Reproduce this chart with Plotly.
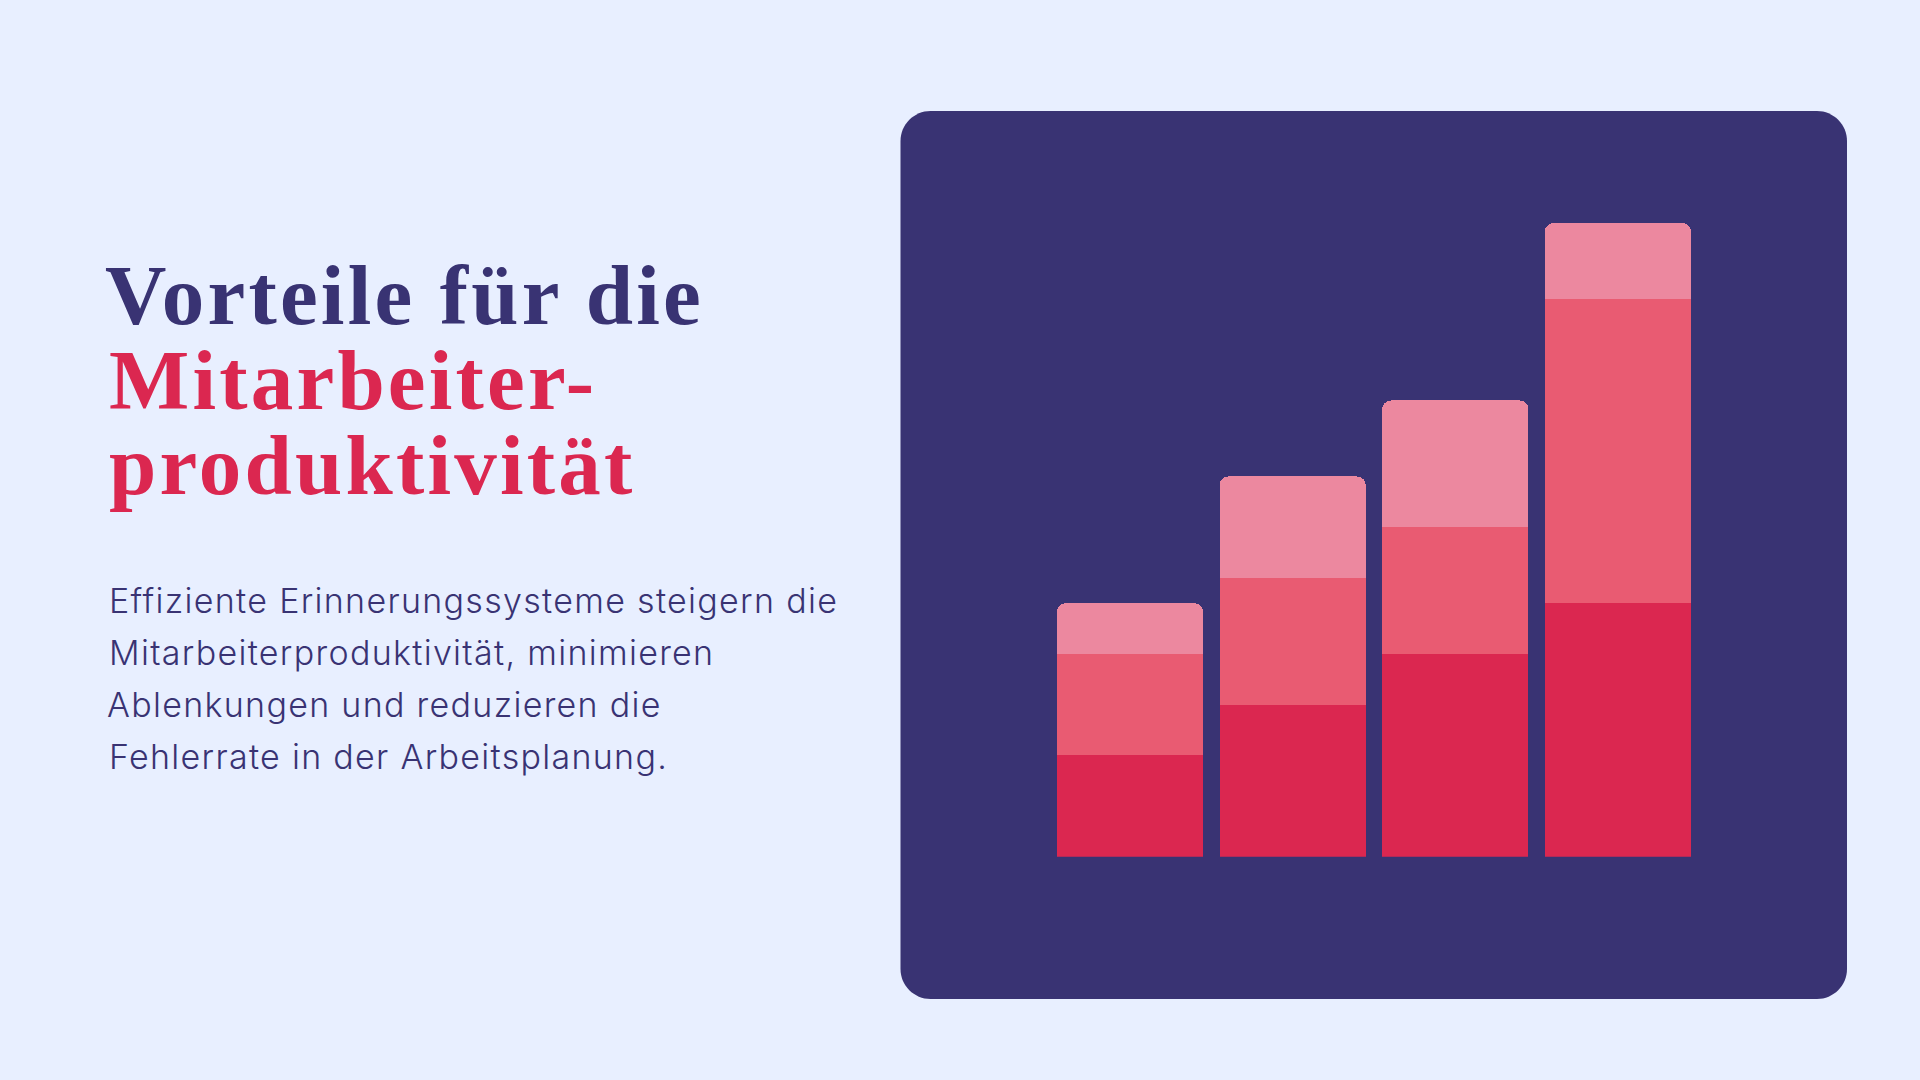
import plotly.graph_objects as go

# values
categories = ["1", "2", "3", "4"]
lower = [20, 30, 40, 50]
middle = [20, 25, 25, 60]
upper = [10, 20, 25, 15]

title_lines = ["Vorteile für die", "Mitarbeiter-", "produktivität"]
body_lines = [
    "Effiziente Erinnerungssysteme steigern die",
    "Mitarbeiterproduktivität, minimieren",
    "Ablenkungen und reduzieren die",
    "Fehlerrate in der Arbeitsplanung.",
]

W, H = 1920, 1080
NAVY = "#393373"
RED = "#DB2750"
BG = "#E8EFFF"


def px(x):
    return x / W


def py(y):
    return 1 - y / H


def rounded_rect(x0, y0, x1, y1, r):
    k = r * 0.45  # control point offset for a circular looking corner
    return (
        f"M {px(x0 + r)} {py(y0)} L {px(x1 - r)} {py(y0)} "
        f"C {px(x1 - k)} {py(y0)} {px(x1)} {py(y0 + k)} {px(x1)} {py(y0 + r)} L {px(x1)} {py(y1 - r)} "
        f"C {px(x1)} {py(y1 - k)} {px(x1 - k)} {py(y1)} {px(x1 - r)} {py(y1)} L {px(x0 + r)} {py(y1)} "
        f"C {px(x0 + k)} {py(y1)} {px(x0)} {py(y1 - k)} {px(x0)} {py(y1 - r)} L {px(x0)} {py(y0 + r)} "
        f"C {px(x0)} {py(y0 + k)} {px(x0 + k)} {py(y0)} {px(x0 + r)} {py(y0)} Z"
    )


def text_line(text, x, y, size, color, family, weight):
    return dict(
        text=text, x=px(x), y=py(y), xref="paper", yref="paper",
        xanchor="left", yanchor="middle", showarrow=False, align="left",
        font=dict(family=family, size=size, color=color, weight=weight),
    )


fig = go.Figure()
fig.add_trace(go.Bar(x=categories, y=lower, marker=dict(color=RED, line_width=0)))
fig.add_trace(go.Bar(x=categories, y=middle, marker=dict(color="#E95B72", line_width=0)))
fig.add_trace(go.Bar(x=categories, y=upper, marker=dict(color="#EC889F", line_width=0)))

annotations = []
for line, x, y, color in zip(title_lines, [103, 107, 107], [295, 380, 465], [NAVY, RED, RED]):
    annotations.append(text_line(line, x, y, 85, color, "Liberation Serif", 700))
for line, x, y in zip(body_lines, [107, 107, 105, 107], [600.5, 652.5, 704.5, 756.5]):
    annotations.append(text_line(line, x, y, 34, NAVY, "Inter", 300))

fig.update_layout(
    width=W, height=H,
    margin=dict(l=0, r=0, t=0, b=0),
    paper_bgcolor=BG,
    plot_bgcolor="rgba(0,0,0,0)",
    barmode="stack",
    bargap=0.1,
    barcornerradius=9,
    showlegend=False,
    xaxis=dict(domain=[px(1048.75), px(1699.25)], visible=False),
    yaxis=dict(domain=[py(856.7), py(856.7 - 130 * 5.07)], range=[0, 130], visible=False),
    shapes=[dict(
        type="path", xref="paper", yref="paper", layer="below",
        path=rounded_rect(900.5, 111, 1847, 999, 30),
        fillcolor=NAVY, line_width=0,
    )],
    annotations=annotations,
)

# the faces in the original run wider than anything installed, open them up a little
post = """
document.body.style.margin = '0';
document.body.style.overflow = 'hidden';
document.querySelectorAll('.annotation-text').forEach(function (t, i) {
    t.style.letterSpacing = i < 3 ? '3.2px' : '1.3px';
});
"""

fig.write_html("out.html", config={"displayModeBar": False}, post_script=post)
